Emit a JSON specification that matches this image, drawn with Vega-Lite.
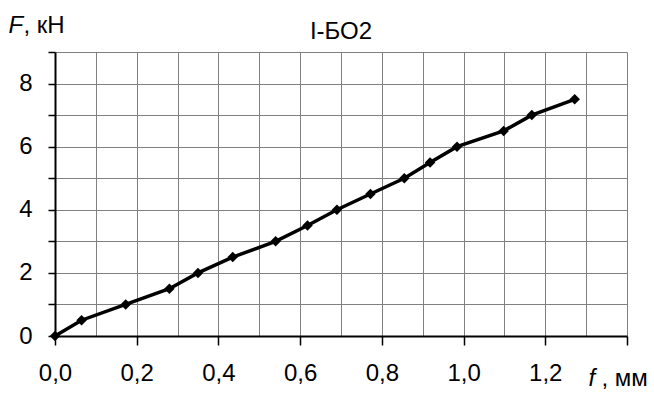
{
  "$schema": "https://vega.github.io/schema/vega-lite/v6.json",
  "width": 572,
  "height": 284,
  "autosize": "none",
  "padding": {"left": 55, "top": 52, "right": 27, "bottom": 58},
  "background": "white",
  "config": {
    "view": {"stroke": null},
    "font": "Liberation Sans",
    "axis": {
      "labelFont": "Liberation Sans",
      "labelFontSize": 24,
      "labelColor": "black",
      "titleFont": "Liberation Sans",
      "titleFontSize": 24,
      "titleFontWeight": "normal",
      "titleColor": "black",
      "titleAngle": 0,
      "titleAlign": "left",
      "titleBaseline": "alphabetic",
      "domainColor": "black",
      "domainWidth": 2,
      "tickColor": "black",
      "tickWidth": 1.5,
      "gridColor": "#808080",
      "gridWidth": 1,
      "gridOpacity": 1,
      "labelFlush": false,
      "labelOverlap": false,
      "labelBound": false
    }
  },
  "title": {
    "text": "I-БО2",
    "font": "Liberation Sans",
    "fontSize": 24,
    "fontWeight": "normal",
    "color": "black",
    "anchor": "middle",
    "frame": "group",
    "baseline": "alphabetic",
    "offset": 16,
    "dy": 66
  },
  "data": {
    "values": [
      {"f": 0.0, "F": 0.0},
      {"f": 0.065, "F": 0.5},
      {"f": 0.173, "F": 1.0},
      {"f": 0.28, "F": 1.5},
      {"f": 0.35, "F": 2.0},
      {"f": 0.435, "F": 2.5},
      {"f": 0.54, "F": 3.0},
      {"f": 0.618, "F": 3.5},
      {"f": 0.69, "F": 4.0},
      {"f": 0.772, "F": 4.5},
      {"f": 0.855, "F": 5.0},
      {"f": 0.918, "F": 5.5},
      {"f": 0.984, "F": 6.0},
      {"f": 1.098, "F": 6.5},
      {"f": 1.167, "F": 7.0},
      {"f": 1.272, "F": 7.5}
    ]
  },
  "resolve": {"axis": {"x": "independent", "y": "independent"}},
  "layer": [
    {
      "mark": {"type": "line", "color": "black", "strokeWidth": 3.5},
      "encoding": {
        "x": {
          "field": "f",
          "type": "quantitative",
          "scale": {"domain": [0, 1.4], "nice": false, "zero": false},
          "axis": {
            "orient": "bottom",
            "values": [0, 0.1, 0.2, 0.3, 0.4, 0.5, 0.6, 0.7, 0.8, 0.9, 1.0, 1.1, 1.2, 1.3, 1.4],
            "labelExpr": "(round(datum.value*10)%2==0 && datum.value<1.35) ? replace(format(datum.value, '.1f'), '.', ',') : ''",
            "tickOpacity": {"condition": {"test": "round(datum.value*10)%2==0", "value": 1}, "value": 0},
            "tickSize": 9,
            "labelPadding": 16,
            "grid": true,
            "title": "f",
            "titleFontStyle": "italic",
            "titleX": 533,
            "titleY": 49
          }
        },
        "y": {
          "field": "F",
          "type": "quantitative",
          "scale": {"domain": [0, 9], "nice": false},
          "axis": {
            "orient": "left",
            "values": [0, 1, 2, 3, 4, 5, 6, 7, 8, 9],
            "labelExpr": "(datum.value%2==0 && datum.value<9) ? datum.label : ''",
            "tickSize": 7,
            "labelPadding": 16,
            "grid": true,
            "title": "F",
            "titleFontStyle": "italic",
            "titleX": -47,
            "titleY": -20
          }
        }
      }
    },
    {
      "mark": {"type": "point", "shape": "diamond", "filled": true, "color": "black", "size": 110, "opacity": 1},
      "encoding": {
        "x": {
          "field": "f",
          "type": "quantitative",
          "axis": {
            "orient": "bottom",
            "labels": false,
            "ticks": false,
            "domain": false,
            "grid": false,
            "title": ", мм",
            "titleX": 546,
            "titleY": 49
          }
        },
        "y": {
          "field": "F",
          "type": "quantitative",
          "axis": {
            "orient": "left",
            "labels": false,
            "ticks": false,
            "domain": false,
            "grid": false,
            "title": ", кН",
            "titleX": -32,
            "titleY": -20
          }
        }
      }
    }
  ]
}
